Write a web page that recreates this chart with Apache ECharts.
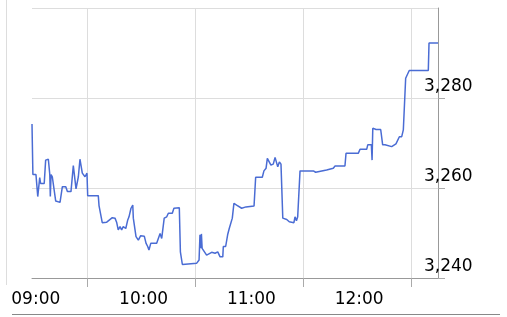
<!DOCTYPE html>
<html>
<head>
<meta charset="utf-8">
<script src="https://cdn.jsdelivr.net/npm/echarts@6/dist/echarts.min.js"></script>
<style>
html,body{margin:0;padding:0;background:#fff;}
#c{width:507px;height:317px;}
</style>
</head>
<body>
<div id="c"></div>
<script>
// minutes after 09:00
var times = [-1,-0.5,1.2,2.2,3.3,3.8,5.8,6.6,8.1,8.9,9.2,9.6,10.3,12.2,14.6,15.9,17.8,18.7,20.7,22.0,
  22.9,23.5,24.8,25.7,26.7,27.0,28.5,29.6,30.0,35.9,36.3,37.4,38.1,40.6,43.7,45.2,46.1,47.0,48.0,48.9,
  49.8,51.2,52.3,53.0,54.1,55.1,55.4,56.3,56.9,58.2,59.5,61.5,62.5,63.4,64.1,65.1,66.2,68.4,69.3,70.3,
  71.2,72.3,72.6,74.0,74.9,77.1,78.0,81.0,81.6,82.7,90.7,92.0,92.5,93.1,93.3,93.7,96.2,97.1,99.0,100.9,
  102.4,103.7,105.2,105.5,106.8,107.9,108.8,110.5,111.4,112.9,113.8,115.7,118.1,122.6,123.5,127.2,128.1,129.3,130.0,131.1,
  132.0,133.3,134.3,135.2,135.8,136.7,137.6,138.6,140.8,142.2,144.8,145.4,146.2,146.9,148.2,155.6,156.9,158.0,163.0,163.6,
  166.7,167.7,173.2,173.8,180.6,181.6,185.3,185.9,187.9,188.3,188.7,190.5,193.1,194.2,195.5,196.4,199.2,200.1,201.6,203.5,
  204.8,205.7,206.6,207.0,208.1,209.0,219.6,220.0,225.0];
var prices = [3274.2,3263.0,3263.0,3258.1,3262.3,3261.0,3261.0,3266.2,3266.4,3263.0,3258.1,3263.0,3262.5,3257.1,3256.8,3260.3,3260.3,3259.2,3259.2,3265.0,
  3265.0,3259.8,3262.5,3266.4,3266.4,3263.3,3262.5,3263.3,3258.3,3258.3,3256.1,3256.1,3252.3,3252.4,3253.4,3253.3,3252.4,3250.7,3251.4,3250.7,
  3251.4,3251.0,3252.9,3253.6,3255.5,3256.2,3253.3,3253.3,3249.2,3248.4,3249.4,3249.3,3247.7,3247.0,3246.2,3247.7,3247.3,3247.7,3247.5,3249.9,
  3248.8,3248.8,3253.3,3253.6,3254.4,3254.4,3255.5,3255.6,3245.8,3243.0,3243.3,3244.0,3249.6,3246.6,3249.8,3246.6,3245.1,3245.1,3245.7,3245.5,
  3245.8,3244.7,3244.7,3247.0,3247.0,3249.6,3251.0,3253.3,3256.6,3256.2,3256.4,3255.5,3255.8,3256.0,3262.4,3262.4,3263.8,3264.4,3266.6,3266.4,
  3265.1,3265.3,3266.8,3266.8,3264.7,3265.8,3265.3,3253.3,3253.0,3252.5,3252.3,3253.6,3252.7,3253.6,3263.8,3263.8,3263.5,3263.8,3264.0,3264.4,
  3264.4,3264.9,3264.9,3267.7,3267.7,3268.6,3268.6,3269.6,3269.6,3266.2,3273.3,3273.0,3273.0,3269.6,3269.6,3269.2,3269.2,3269.6,3269.8,3271.4,
  3271.4,3272.9,3273.0,3284.4,3284.4,3286.1,3286.1,3292.2,3292.2];
var xLabelMinutes = [0, 60, 120, 180];
var xTickMinutes = [30, 90, 150, 210];
var yTicks = [3240, 3260, 3280, 3300];

var data = times.map(function (t, i) { return [t, prices[i]]; });
function hhmm(m) {
  var tot = 9 * 60 + m, h = Math.floor(tot / 60), mm = tot % 60;
  return (h < 10 ? '0' : '') + h + ':' + (mm < 10 ? '0' : '') + mm;
}
var chart = echarts.init(document.getElementById('c'), null, {renderer: 'canvas'});
chart.setOption({
  animation: false,
  backgroundColor: '#fff',
  grid: {left: 32, right: 69, top: 8, bottom: 39},
  xAxis: {
    type: 'value', min: -1, max: 225,
    axisLine: {show: true, onZero: false, lineStyle: {color: '#999', width: 1}},
    axisTick: {show: true, customValues: xTickMinutes, length: 9, lineStyle: {color: '#aaa'}},
    splitLine: {show: true, lineStyle: {color: '#ddd', width: 1}},
    axisLabel: {
      customValues: xLabelMinutes,
      formatter: function (v) { return hhmm(v); },
      color: '#000', fontFamily: 'DejaVu Sans', fontSize: 17, margin: 13,
      padding: [0, 0, 0, 4]
    }
  },
  yAxis: {
    type: 'value', position: 'right', min: yTicks[0], max: yTicks[yTicks.length - 1], interval: 20,
    axisLine: {show: true, onZero: false, lineStyle: {color: '#999', width: 1}},
    axisTick: {show: true, length: 7, lineStyle: {color: '#aaa'}},
    splitLine: {show: true, lineStyle: {color: '#ddd', width: 1}},
    axisLabel: {
      showMaxLabel: false,
      color: '#000', fontFamily: 'DejaVu Sans', fontSize: 17, margin: -14,
      verticalAlign: 'bottom', padding: [0, 0, 3, 0],
      formatter: function (v) { return v.toLocaleString('en-US'); }
    }
  },
  graphic: [
    {type: 'line', shape: {x1: 6.5, y1: 0, x2: 6.5, y2: 285}, style: {stroke: '#ddd', lineWidth: 1}, silent: true},
    {type: 'line', shape: {x1: 12, y1: 314.5, x2: 500, y2: 314.5}, style: {stroke: '#888', lineWidth: 1}, silent: true}
  ],
  series: [{
    type: 'line', data: data, showSymbol: false, symbol: 'none',
    lineStyle: {color: '#4a6cd4', width: 1.5}, silent: true
  }]
});
</script>
</body>
</html>
